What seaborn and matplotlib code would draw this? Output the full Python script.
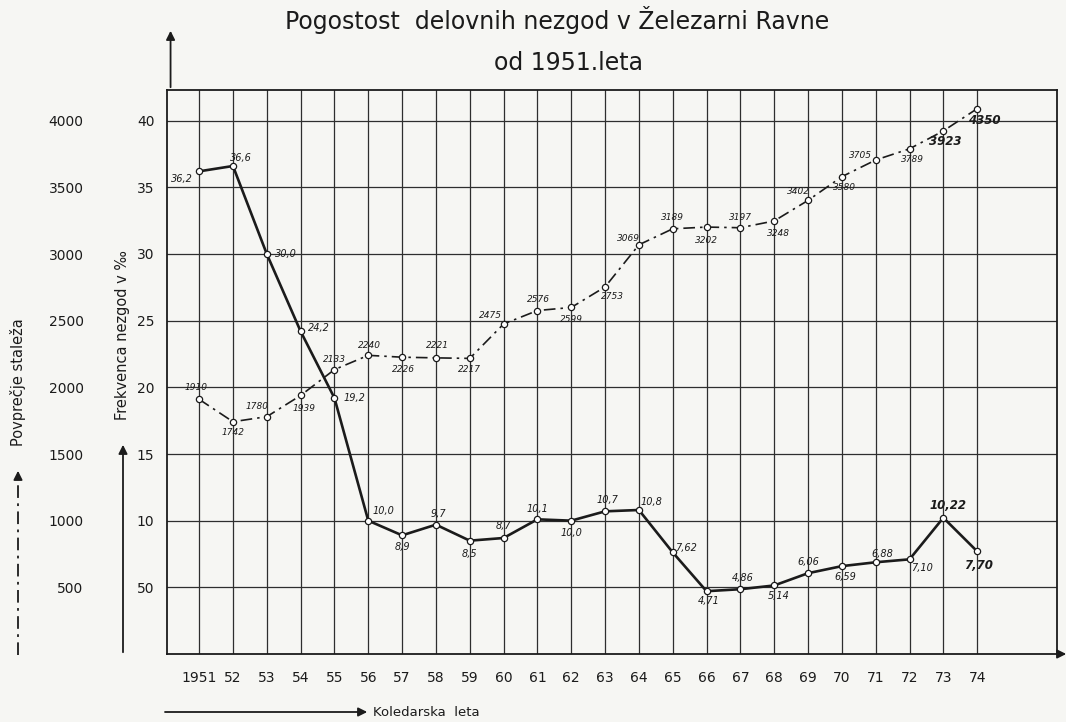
import matplotlib
matplotlib.use("Agg")
import matplotlib.pyplot as plt
from matplotlib.lines import Line2D
import seaborn as sns
import pandas as pd

years = list(range(1951, 1975))
year_labels = ["1951", "52", "53", "54", "55", "56", "57", "58", "59", "60", "61", "62",
               "63", "64", "65", "66", "67", "68", "69", "70", "71", "72", "73", "74"]

# frekvenca nezgod (promile)
freq = [36.2, 36.6, 30.0, 24.2, 19.2, 10.0, 8.9, 9.7, 8.5, 8.7, 10.1, 10.0,
        10.7, 10.8, 7.62, 4.71, 4.86, 5.14, 6.06, 6.59, 6.88, 7.10, 10.22, 7.70]
freq_labels = ["36,2", "36,6", "30,0", "24,2", "19,2", "10,0", "8,9", "9,7", "8,5", "8,7",
               "10,1", "10,0", "10,7", "10,8", "7,62", "4,71", "4,86", "5,14", "6,06",
               "6,59", "6,88", "7,10", "10,22", "7,70"]

# povprecje staleza
staff = [1910, 1742, 1780, 1939, 2133, 2240, 2226, 2221, 2217, 2475, 2576, 2599,
         2753, 3069, 3189, 3202, 3197, 3248, 3402, 3580, 3705, 3789, 3923, 4090]
staff_labels = ["1910", "1742", "1780", "1939", "2133", "2240", "2226", "2221", "2217",
                "2475", "2576", "2599", "2753", "3069", "3189", "3202", "3197", "3248",
                "3402", "3580", "3705", "3789", "3923", "4350"]

freq_ticks = [5, 10, 15, 20, 25, 30, 35, 40]
freq_tick_labels = ["50", "10", "15", "20", "25", "30", "35", "40"]
staff_ticks = [500, 1000, 1500, 2000, 2500, 3000, 3500, 4000]

df = pd.DataFrame({"leto": years, "freq": freq, "staff": staff})

sns.set_style("white")
plt.rcParams["font.family"] = ["DejaVu Sans"]
INK = "#1b1b1b"
PAPER = "#f6f6f3"

fig = plt.figure(figsize=(10.66, 7.22), dpi=100, facecolor=PAPER)
W, H = 1066, 722
ax = fig.add_axes([167 / W, 1 - 654 / H, (1057 - 167) / W, (654 - 90) / H])
ax.set_facecolor(PAPER)
ymax = 42.3
ax.set_xlim(1950.05, 1976.36)
ax.set_ylim(0, ymax)

ax.set_xticks(years)
ax.set_xticklabels(year_labels, fontsize=10, color=INK)
ax.set_yticks(freq_ticks)
ax.set_yticklabels(freq_tick_labels, fontsize=10, color=INK)
ax.tick_params(axis="x", length=0, pad=12)
ax.tick_params(axis="y", length=0, pad=9)
ax.grid(True, color="#2e2e2e", lw=0.9)
for s in ax.spines.values():
    s.set_color(INK)
    s.set_linewidth(1.3)

sns.lineplot(data=df, x="leto", y="freq", ax=ax, color=INK, lw=1.9,
             marker="o", markersize=4.5, markerfacecolor="white",
             markeredgecolor=INK, markeredgewidth=0.9, zorder=4)

ax2 = ax.twinx()
ax2.set_ylim(0, ymax * 100)
sns.lineplot(data=df, x="leto", y="staff", ax=ax2, color=INK, lw=1.2,
             linestyle=(0, (7, 3, 1.5, 3)),
             marker="o", markersize=4.5, markerfacecolor="white",
             markeredgecolor=INK, markeredgewidth=0.9, zorder=4)
ax2.yaxis.set_ticks_position("left")
ax2.spines["left"].set_position(("outward", 60))
for s in ax2.spines.values():
    s.set_visible(False)
ax2.set_yticks(staff_ticks)
ax2.set_yticklabels([str(v) for v in staff_ticks], fontsize=10, color=INK)
ax2.tick_params(length=0, pad=0)
ax2.set_xlim(ax.get_xlim())
ax.set_xlabel("")
ax.set_ylabel("")
ax2.set_ylabel("")
ax2.set_xlabel("")

# point labels (offsets in pixels)
freq_off = [(-17, -8), (8, 8), (19, 0), (18, 3), (20, 0), (15, 10), (0, -12), (2, 11),
            (0, -13), (0, 12), (0, 10), (0, -12), (2, 11), (13, 8), (13, 4), (2, -10),
            (2, 11), (5, -11), (0, 11), (3, -11), (7, 8), (13, -9), (5, 12), (1, -14)]
staff_off = [(-3, 12), (0, -11), (-10, 10), (3, -13), (0, 10), (1, 10), (1, -12), (2, 12),
             (0, -11), (-13, 8), (1, 11), (0, -12), (7, -10), (-10, 6), (0, 11), (0, -13),
             (0, 10), (4, -13), (-10, 9), (3, -11), (-15, 5), (3, -11), (2, -11), (7, -12)]
for i, (x, y, t) in enumerate(zip(years, freq, freq_labels)):
    big = i >= 22
    ax.annotate(t, (x, y), xytext=freq_off[i], textcoords="offset pixels",
                ha="center", va="center", fontsize=8.5 if big else 7,
                style="italic", fontweight="bold" if big else "normal", color=INK,
                zorder=6)
for i, (x, y, t) in enumerate(zip(years, staff, staff_labels)):
    big = i >= 22
    ax2.annotate(t, (x, y), xytext=staff_off[i], textcoords="offset pixels",
                 ha="center", va="center", fontsize=8.5 if big else 6.5,
                 style="italic", fontweight="bold" if big else "normal", color=INK,
                 zorder=6)

# axis arrows
arrow = dict(arrowstyle="-|>", color=INK, lw=1.3, mutation_scale=13)
ax.annotate("", xy=(0.004, 1 + 62 / 564), xytext=(0.004, 1), xycoords="axes fraction",
            arrowprops=arrow, annotation_clip=False)
ax.annotate("", xy=(1 + 12 / 890, 0), xytext=(1, 0), xycoords="axes fraction",
            arrowprops=arrow, annotation_clip=False)

# title
fig.text(557 / W, 1 - 20 / H, "Pogostost  delovnih nezgod v Železarni Ravne",
         ha="center", va="center", fontsize=17, color=INK)
fig.text(568 / W, 1 - 63 / H, "od 1951.leta", ha="center", va="center",
         fontsize=17, color=INK)

# axis titles with arrows
fig.text(123 / W, 1 - 335 / H, "Frekvenca nezgod v ‰", rotation=90, ha="center",
         va="center", fontsize=10.5, color=INK)
fig.text(18 / W, 1 - 382 / H, "Povprečje staleža", rotation=90, ha="center",
         va="center", fontsize=10.5, color=INK)
ax.annotate("", xy=(123, H - 442), xytext=(123, H - 655), xycoords="figure pixels",
            arrowprops=arrow, annotation_clip=False)
fig.add_artist(Line2D([18 / W, 18 / W], [1 - 655 / H, 1 - 478 / H], color=INK, lw=1.3,
                      linestyle=(0, (7, 3, 1.5, 3))))
ax.annotate("", xy=(18, H - 468), xytext=(18, H - 478), xycoords="figure pixels",
            arrowprops=arrow, annotation_clip=False)

fig.add_artist(Line2D([165 / W, 360 / W], [1 - 712 / H, 1 - 712 / H], color=INK, lw=1.3))
ax.annotate("", xy=(370, H - 712), xytext=(355, H - 712), xycoords="figure pixels",
            arrowprops=arrow, annotation_clip=False)
fig.text(373 / W, 1 - 712 / H, "Koledarska  leta", ha="left", va="center",
         fontsize=9.5, color=INK)

fig.savefig("out.png", dpi=100, facecolor=PAPER)
